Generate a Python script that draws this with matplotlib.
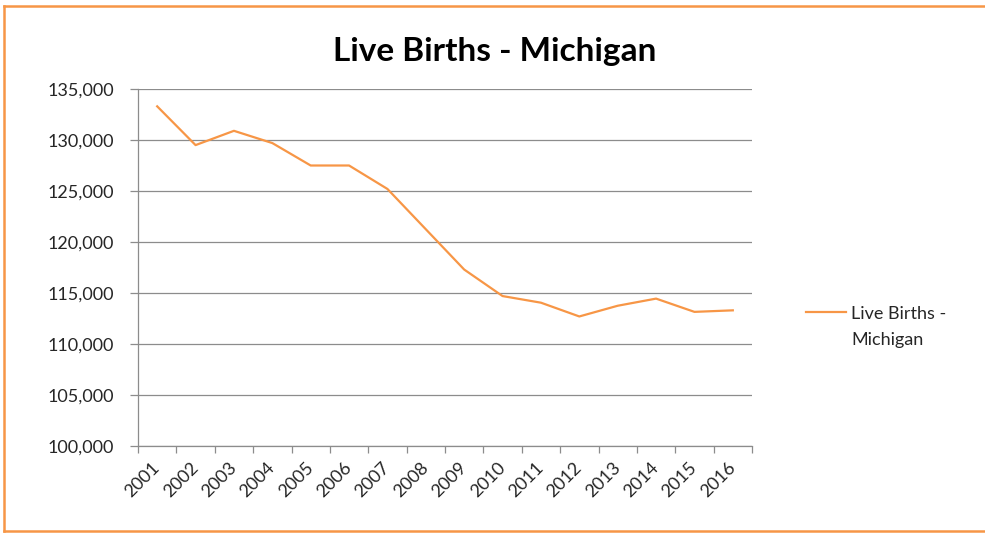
import matplotlib
matplotlib.use("Agg")
import matplotlib.pyplot as plt
from matplotlib.lines import Line2D
from matplotlib.ticker import FuncFormatter

plt.rcParams['font.family'] = ['Lato', 'DejaVu Sans']

years = ['2001', '2002', '2003', '2004', '2005', '2006', '2007', '2008',
         '2009', '2010', '2011', '2012', '2013', '2014', '2015', '2016']
births = [133300, 129500, 130900, 129700, 127500, 127500, 125200, 121250,
          117300, 114700, 114050, 112700, 113750, 114450, 113150, 113300]
series_name = 'Live Births -\nMichigan'
title = 'Live Births - Michigan'

W, H = 985, 533
fig = plt.figure(figsize=(W / 100, H / 100), dpi=100)
ax = fig.add_axes([138 / W, 1 - 446 / H, (752 - 138) / W, (446 - 89) / H])

orange = '#F79646'
grid_c = '#8c8c8c'
txt_c = '#262626'

x = list(range(len(years)))
ax.plot(x, births, color=orange, lw=1.6, label=series_name)

ax.set_xlim(-0.5, len(years) - 0.5)
ax.set_ylim(100000, 135000)
ax.set_yticks(range(100000, 135001, 5000))
ax.yaxis.set_major_formatter(FuncFormatter(lambda v, p: f'{int(v):,}'))
ax.grid(axis='y', color=grid_c, lw=0.9)
ax.set_axisbelow(True)

ax.set_xticks(x)
ax.set_xticklabels(years, rotation=45, ha='right', va='center', rotation_mode='anchor',
                   fontsize=13, color=txt_c)
ax.tick_params(axis='x', which='major', length=0, pad=14)
ax.set_xticks([i - 0.5 for i in range(len(years) + 1)], minor=True)
ax.tick_params(axis='x', which='minor', length=5, color=grid_c, width=0.9)
ax.tick_params(axis='y', length=5.5, color=grid_c, width=0.9, labelsize=13, labelcolor=txt_c, pad=12)

for s in ['top', 'right']:
    ax.spines[s].set_visible(False)
for s in ['left', 'bottom']:
    ax.spines[s].set_color(grid_c)
    ax.spines[s].set_linewidth(0.9)

fig.text(495 / W, 1 - 52 / H, title, ha='center', va='center', fontsize=24, fontweight='bold', color='black')

leg = fig.legend(loc='center left', bbox_to_anchor=(806 / W, 1 - 327 / H), frameon=False,
                 fontsize=13, handlelength=2.2, handletextpad=0.3, labelcolor=txt_c,
                 borderpad=0, borderaxespad=0)
for t in leg.get_texts():
    t.set_linespacing(1.75)
for ln in leg.get_lines():
    ln.set_ydata([v + 11 for v in ln.get_ydata()])

# orange chart-area border (top, left, bottom edges)
top_y, bot_y, left_x = 1 - 6 / H, 1 - 531 / H, 4 / W
for xs, ys in [([left_x, 1], [top_y, top_y]), ([left_x, left_x], [bot_y, top_y]), ([left_x, 1], [bot_y, bot_y])]:
    fig.add_artist(Line2D(xs, ys, transform=fig.transFigure, color=orange, lw=1.8,
                          solid_capstyle='projecting'))

fig.savefig('out.png', dpi=100)
